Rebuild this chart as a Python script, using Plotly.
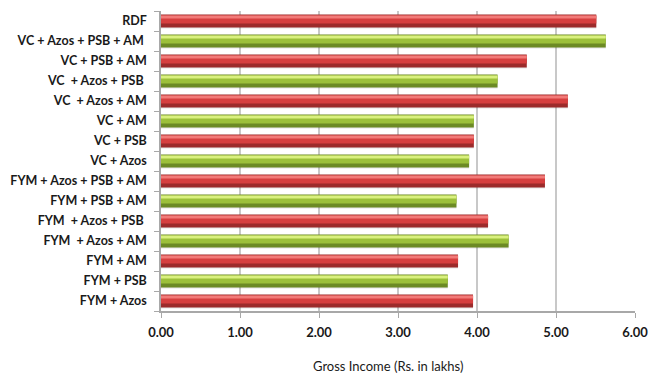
import plotly.graph_objects as go

NB = "\u00a0"
categories = [
    "FYM + Azos", "FYM + PSB", "FYM + AM", "FYM" + NB + " + Azos + AM",
    "FYM" + NB + " + Azos + PSB" + NB, "FYM + PSB + AM", "FYM + Azos + PSB + AM",
    "VC + Azos", "VC + PSB", "VC + AM", "VC" + NB + " + Azos + AM",
    "VC" + NB + " + Azos + PSB" + NB, "VC + PSB + AM", "VC + Azos + PSB + AM" + NB, "RDF",
]
values = [3.95, 3.63, 3.76, 4.40, 4.14, 3.74, 4.86,
          3.90, 3.96, 3.96, 5.15, 4.26, 4.63, 5.63, 5.51]
series_color = ["red", "green"] * 8
series_color = series_color[:15]

tick_vals = [0, 1, 2, 3, 4, 5, 6]
tick_text = ["0.00", "1.00", "2.00", "3.00", "4.00", "5.00", "6.00"]
x_title = "Gross Income (Rs. in lakhs)"

pal = {
    "red": {"dark": "#9c2b2b", "mid": "#d63f3f", "light": "#f27a78"},
    "green": {"dark": "#6c8a24", "mid": "#9cc03a", "light": "#d9f07e"},
}

def cols(level):
    return [pal[c][level] for c in series_color]

fig = go.Figure()
W = 0.64
# shadow
fig.add_trace(go.Bar(y=categories, x=values, orientation="h", width=W, offset=-W/2 - 0.06,
                     marker=dict(color="rgba(0,0,0,0.10)", line=dict(width=0)), hoverinfo="skip"))
# dark base
fig.add_trace(go.Bar(y=categories, x=values, orientation="h", width=W, offset=-W/2,
                     marker=dict(color=cols("dark"), line=dict(width=0))))
# mid band
fig.add_trace(go.Bar(y=categories, x=values, orientation="h", width=W*0.62, offset=-W/2 + W*0.30,
                     marker=dict(color=cols("mid"), line=dict(width=0)), hoverinfo="skip"))
# highlight band
fig.add_trace(go.Bar(y=categories, x=values, orientation="h", width=W*0.22, offset=W/2 - W*0.30,
                     marker=dict(color=cols("light"), line=dict(width=0)), hoverinfo="skip"))

font_fam = "Lato, 'Open Sans', sans-serif"
fig.update_layout(
    width=654, height=374,
    margin=dict(l=161, r=19, t=11, b=63),
    barmode="overlay",
    showlegend=False,
    plot_bgcolor="white", paper_bgcolor="white",
    font=dict(family=font_fam, color="#1a1a1a"),
    xaxis=dict(range=[0, 6], tickvals=tick_vals, ticktext=tick_text, automargin=False,
               showgrid=True, gridcolor="#c8c8c8", gridwidth=1.5,
               showline=True, linecolor="#a8a8a8", linewidth=1.5,
               ticks="outside", ticklen=5, tickcolor="#a8a8a8",
               tickfont=dict(size=13, family=font_fam, weight="bold", color="#1a1a1a"),
               ticklabelstandoff=4,
               zeroline=False),
    yaxis=dict(showgrid=False, showline=True, linecolor="#a8a8a8", linewidth=1.5, automargin=False,
               ticks="outside", ticklen=5, tickcolor="#a8a8a8", tickson="boundaries",
               tickfont=dict(size=12.5, family=font_fam, weight="bold", color="#1a1a1a"),
               ticklabelstandoff=10, range=[-0.5, 14.5]),
)

fig.add_annotation(text=x_title, xref="paper", yref="paper", x=0.479, y=-0.183,
                   xanchor="center", yanchor="middle", showarrow=False,
                   font=dict(size=13, family=font_fam, color="#1a1a1a"))

fig.write_html("out.html")
